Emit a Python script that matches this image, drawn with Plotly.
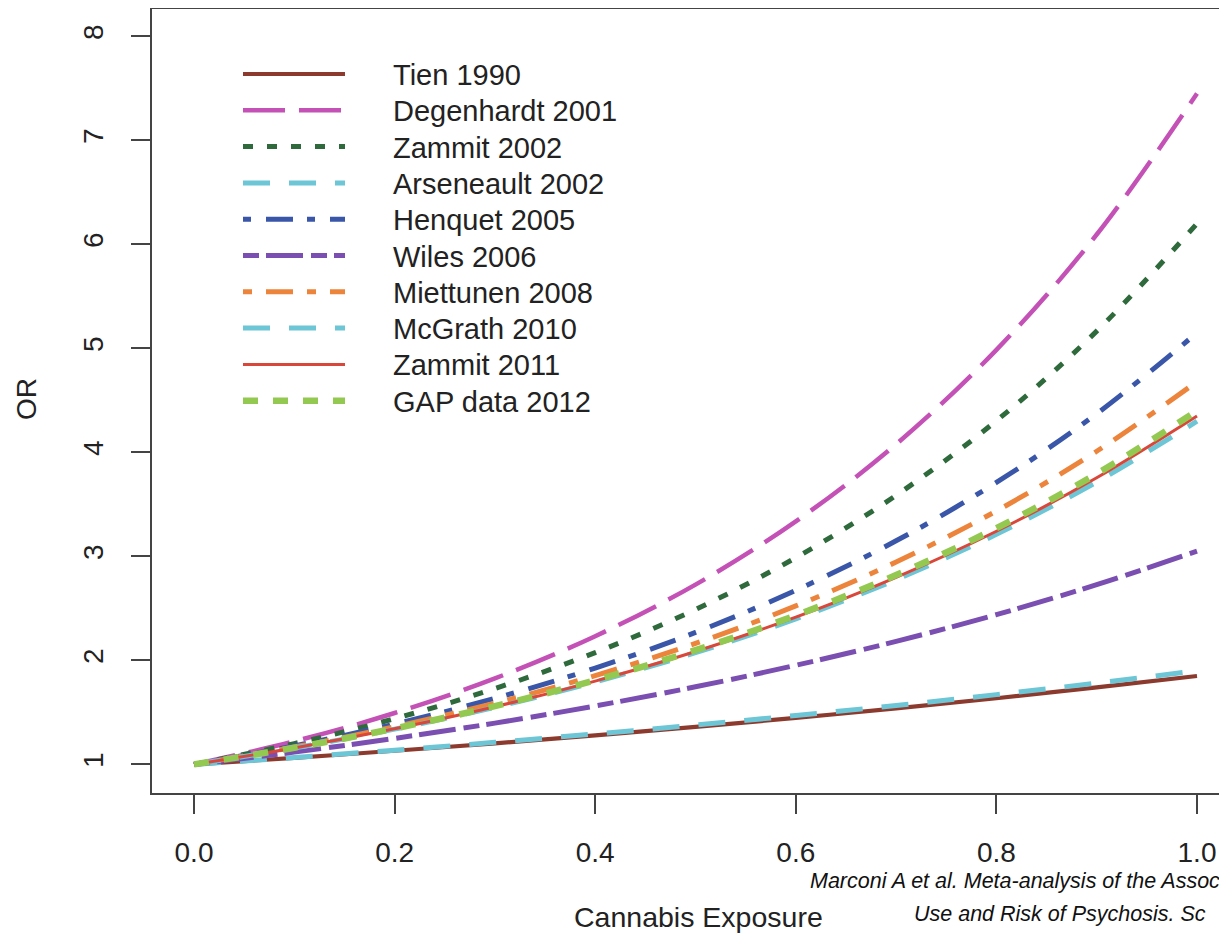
import plotly.graph_objects as go

# ---------------- data ----------------
x_exposure = [0.0, 0.1, 0.2, 0.3, 0.4, 0.5, 0.6, 0.7, 0.8, 0.9, 1.0]

study_names = [
    "Tien 1990", "Degenhardt 2001", "Zammit 2002", "Arseneault 2002",
    "Henquet 2005", "Wiles 2006", "Miettunen 2008", "McGrath 2010",
    "Zammit 2011", "GAP data 2012",
]

tien_1990 = [1.00, 1.063, 1.131, 1.203, 1.279, 1.360, 1.447, 1.538, 1.636, 1.740, 1.85]
degenhardt_2001 = [1.00, 1.222, 1.494, 1.827, 2.233, 2.729, 3.337, 4.079, 4.986, 6.095, 7.45]
zammit_2002 = [1.00, 1.200, 1.440, 1.729, 2.075, 2.490, 2.988, 3.587, 4.304, 5.166, 6.20]
arseneault_2002 = [1.00, 1.066, 1.137, 1.212, 1.293, 1.378, 1.470, 1.567, 1.671, 1.782, 1.90]
henquet_2005 = [1.00, 1.178, 1.388, 1.635, 1.926, 2.269, 2.674, 3.150, 3.711, 4.372, 5.15]
wiles_2006 = [1.00, 1.118, 1.250, 1.397, 1.562, 1.746, 1.953, 2.183, 2.440, 2.728, 3.05]
miettunen_2008 = [1.00, 1.167, 1.362, 1.589, 1.854, 2.163, 2.524, 2.946, 3.437, 4.011, 4.68]
mcgrath_2010 = [1.00, 1.157, 1.339, 1.549, 1.792, 2.074, 2.399, 2.776, 3.212, 3.716, 4.30]
zammit_2011 = [1.00, 1.158, 1.342, 1.554, 1.801, 2.086, 2.416, 2.799, 3.242, 3.756, 4.35]
gap_2012 = [1.00, 1.160, 1.345, 1.560, 1.809, 2.098, 2.433, 2.821, 3.272, 3.794, 4.40]

series_values = [
    tien_1990, degenhardt_2001, zammit_2002, arseneault_2002, henquet_2005,
    wiles_2006, miettunen_2008, mcgrath_2010, zammit_2011, gap_2012,
]

x_tick_values = [0.0, 0.2, 0.4, 0.6, 0.8, 1.0]
x_tick_labels = ["0.0", "0.2", "0.4", "0.6", "0.8", "1.0"]
y_tick_values = [1, 2, 3, 4, 5, 6, 7, 8]
y_tick_labels = ["1", "2", "3", "4", "5", "6", "7", "8"]

x_title = "Cannabis Exposure"
y_title = "OR"
# caption as visible in the (cropped) reference
caption_line1 = "Marconi A et al. Meta-analysis of the Assoc"
caption_line2 = "Use and Risk of Psychosis. Sc"

# ---------------- styles ----------------
colors = ["#8C3A2D", "#C452B6", "#2E6A3B", "#6CC6D6", "#3A56A8",
          "#7B4FB1", "#EC843B", "#6CC6D6", "#D9473A", "#93C851"]
dashes = ["solid", "42px,14px", "10px,14px", "27px,19px", "8px,15px,27px,14px",
          "16px,7px,37px,8px", "9px,14px,27px,14px", "27px,19px", "solid", "15px,15px"]
widths = [4.2, 4.5, 5, 5, 5, 5, 5, 5, 3, 6.5]

FONT = "Liberation Sans, Arial, Helvetica, sans-serif"
OFF = 8                      # page body margin
W, H = 1227 - OFF, 938 - OFF  # figure size
ML, MR, MT, MB = 144, 0, 1, 145
PW, PH = W - ML - MR, H - MT - MB


def px_x(p):
    """page pixel x -> paper coordinate"""
    return (p - OFF - ML) / PW


def px_y(p):
    """page pixel y -> paper coordinate"""
    return (H - MB - (p - OFF)) / PH


fig = go.Figure()
for name, vals, c, d, w in zip(study_names, series_values, colors, dashes, widths):
    fig.add_trace(go.Scatter(
        x=x_exposure, y=vals, mode="lines", name=name,
        line=dict(color=c, dash=d, width=w, shape="spline"),
        showlegend=False, hoverinfo="x+y+name",
    ))

# ---------- manual legend (long line samples as in the original) ----------
shapes = []
annotations = []
for i, (name, c, d, w) in enumerate(zip(study_names, colors, dashes, widths)):
    yc = 74 + i * 36.3
    shapes.append(dict(type="line", xref="paper", yref="paper",
                       x0=px_x(243), x1=px_x(345), y0=px_y(yc), y1=px_y(yc),
                       line=dict(color=c, dash=d, width=w)))
    annotations.append(dict(xref="paper", yref="paper", x=px_x(391), y=px_y(yc + 1),
                            text=name, showarrow=False, xanchor="left", yanchor="middle",
                            font=dict(family=FONT, size=29, color="#222222")))

annotations.append(dict(xref="paper", yref="paper", x=px_x(26), y=px_y(399),
                        text=y_title, showarrow=False, textangle=-90,
                        xanchor="center", yanchor="middle",
                        font=dict(family=FONT, size=28, color="#222222")))
annotations.append(dict(xref="paper", yref="paper", x=px_x(698), y=px_y(917),
                        text=x_title, showarrow=False,
                        xanchor="center", yanchor="middle",
                        font=dict(family=FONT, size=28.5, color="#222222")))
annotations.append(dict(xref="paper", yref="paper", x=px_x(808), y=px_y(881),
                        text="<i>" + caption_line1 + "</i>", showarrow=False,
                        xanchor="left", yanchor="middle",
                        font=dict(family=FONT, size=21.5, color="#111111")))
annotations.append(dict(xref="paper", yref="paper", x=px_x(912), y=px_y(914),
                        text="<i>" + caption_line2 + "</i>", showarrow=False,
                        xanchor="left", yanchor="middle",
                        font=dict(family=FONT, size=21.5, color="#111111")))

x_unit = 1003.0
y_unit = 104.0
xmin = -(194 - OFF - ML) / x_unit
xmax = xmin + PW / x_unit
ymin = 1 - ((H - MB) - (764.4 - OFF)) / y_unit
ymax = ymin + PH / y_unit

fig.update_layout(
    width=W, height=H,
    margin=dict(l=ML, r=MR, t=MT, b=MB, pad=0),
    paper_bgcolor="white", plot_bgcolor="white",
    font=dict(family=FONT, size=28, color="#222222"),
    shapes=shapes, annotations=annotations,
    showlegend=False,
    xaxis=dict(range=[xmin, xmax], tickvals=x_tick_values, ticktext=x_tick_labels,
               showgrid=False, zeroline=False, showline=True, mirror=True,
               linecolor="#444444", linewidth=2, ticks="outside", ticklen=19,
               tickwidth=2, tickcolor="#444444", ticklabelstandoff=14,
               tickfont=dict(family=FONT, size=28, color="#222222")),
    yaxis=dict(range=[ymin, ymax], tickvals=y_tick_values, ticktext=y_tick_labels,
               showgrid=False, zeroline=False, showline=True, mirror=False,
               linecolor="#444444", linewidth=2, ticks="outside", ticklen=19,
               tickwidth=2, tickcolor="#444444", tickangle=-90, ticklabelstandoff=17,
               tickfont=dict(family=FONT, size=28, color="#222222")),
)

fig.write_html("out.html")
